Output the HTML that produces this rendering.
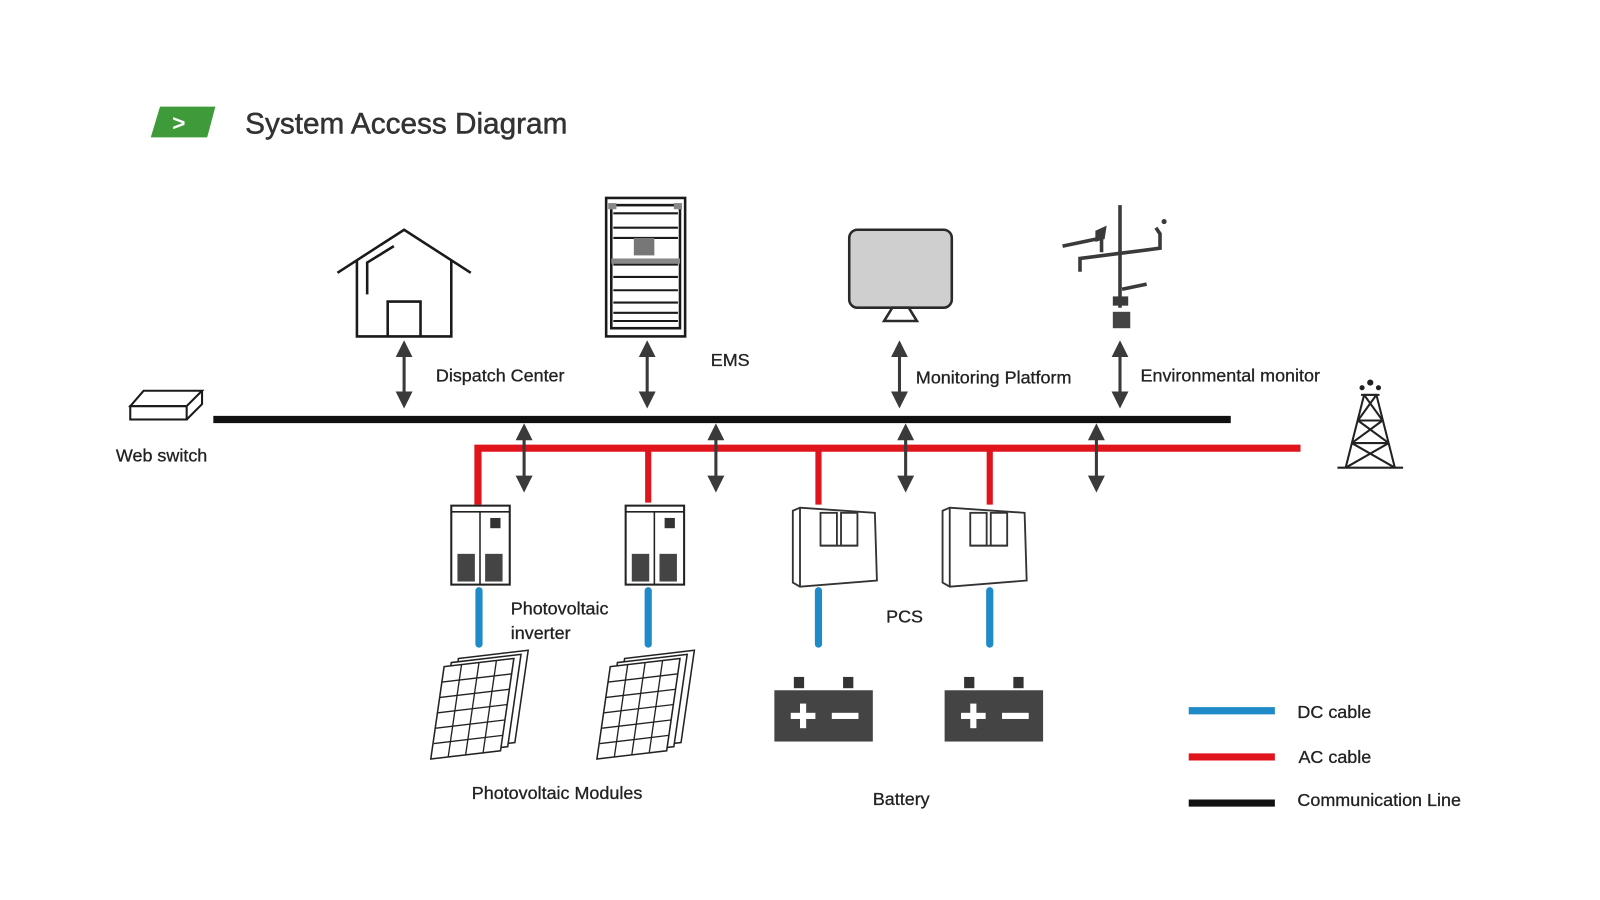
<!DOCTYPE html>
<html><head><meta charset="utf-8"><style>
html,body{margin:0;padding:0;background:#fff;}
svg{display:block;}
text{font-family:"Liberation Sans",sans-serif;fill:#222;}
</style></head><body>
<svg width="1600" height="900" viewBox="0 0 1560 877.5" xmlns="http://www.w3.org/2000/svg">
<defs>
<marker id="ah" viewBox="0 0 10 10" refX="5" refY="5" markerWidth="5.5" markerHeight="5.5" orient="auto-start-reverse"><path d="M0,0 L10,5 L0,10 z" fill="#3a3a3a"/></marker>
</defs>
<rect width="1560" height="877.5" fill="#fff"/>
<polygon points="156,104 210,104 202,134 147,134" fill="#3f9a3a"/>
<text x="168" y="127" font-size="22" font-weight="bold" style="fill:#fff">&gt;</text>
<text x="239" y="130" font-size="29" style="fill:#333;stroke:#333;stroke-width:0.5">System Access Diagram</text>

<line x1="208" y1="409" x2="1200" y2="409" stroke="#111" stroke-width="7"/>
<polyline points="466,492 466,437 1268,437" fill="none" stroke="#e0141c" stroke-width="7"/>
<g stroke="#e0141c" stroke-width="6">
<line x1="632" y1="437" x2="632" y2="490"/>
<line x1="798" y1="437" x2="798" y2="492"/>
<line x1="965" y1="437" x2="965" y2="492"/>
</g>
<g stroke="#1e8ac8" stroke-width="7" stroke-linecap="round">
<line x1="467" y1="576" x2="467" y2="628"/>
<line x1="632" y1="576" x2="632" y2="628"/>
<line x1="798" y1="576" x2="798" y2="628"/>
<line x1="965" y1="576" x2="965" y2="628"/>
</g>

<g stroke="#3a3a3a" stroke-width="3" marker-start="url(#ah)" marker-end="url(#ah)">
<line x1="394" y1="340" x2="394" y2="390"/>
<line x1="631" y1="340" x2="631" y2="390"/>
<line x1="877" y1="340" x2="877" y2="390"/>
<line x1="1092" y1="340" x2="1092" y2="390"/>
<line x1="511" y1="421" x2="511" y2="472"/>
<line x1="698" y1="421" x2="698" y2="472"/>
<line x1="883" y1="421" x2="883" y2="472"/>
<line x1="1069" y1="421" x2="1069" y2="472"/>
</g>

<g fill="none" stroke="#1a1a1a" stroke-width="2.5">
<polyline points="329,266 394,224 459,266"/>
<polyline points="348,253 348,328 440,328 440,253"/>
<polyline points="378,328 378,294 410,294 410,328"/>
<polyline points="358,287 358,256 384,240"/>
</g>

<g fill="none" stroke="#1a1a1a" stroke-width="2.5">
<rect x="591" y="193" width="77" height="135"/>
<rect x="596" y="200" width="67" height="120"/>
<g stroke-width="2"><line x1="598" y1="208" x2="661" y2="208"/><line x1="598" y1="222" x2="661" y2="222"/><line x1="598" y1="232" x2="661" y2="232"/><line x1="598" y1="258" x2="661" y2="258"/><line x1="598" y1="270" x2="661" y2="270"/><line x1="598" y1="283" x2="661" y2="283"/><line x1="598" y1="295" x2="661" y2="295"/><line x1="598" y1="305" x2="661" y2="305"/><line x1="598" y1="313" x2="661" y2="313"/></g>
</g>
<rect x="618" y="232" width="20" height="17" fill="#777"/>
<rect x="596" y="252" width="67" height="5" fill="#888"/>
<rect x="593" y="198" width="8" height="6" fill="#888"/><rect x="657" y="198" width="8" height="6" fill="#888"/>

<rect x="828" y="224" width="100" height="76" rx="8" fill="#cfcfcf" stroke="#2a2a2a" stroke-width="2.5"/>
<polygon points="870,300 886,300 894,313 862,313" fill="none" stroke="#2a2a2a" stroke-width="2.5"/>

<g stroke="#3a3a3a" stroke-width="3.5" fill="none">
<line x1="1092" y1="200" x2="1092" y2="300"/>
<polyline points="1053,265 1053,252 1092,247 1131,242 1131,228 1127,222"/>
<polyline points="1036,240 1074,232 1074,246"/>
<line x1="1094" y1="282" x2="1118" y2="277"/>
</g>
<polygon points="1068,225 1079,220 1077,233 1068,236" fill="#3a3a3a"/>
<circle cx="1135" cy="216" r="2.5" fill="#3a3a3a"/>
<rect x="1085" y="289" width="15" height="9" fill="#3a3a3a"/>
<rect x="1085" y="304" width="17" height="16" fill="#444"/>

<g stroke="#222" stroke-width="2" fill="none">
<line x1="1304" y1="456" x2="1368" y2="456"/>
<polyline points="1312,456 1330,385 1342,385 1360,456"/>
<line x1="1327" y1="385" x2="1345" y2="385"/>
<line x1="1324" y1="410" x2="1348" y2="410"/>
<line x1="1318" y1="432" x2="1354" y2="432"/>
<line x1="1330" y1="385" x2="1348" y2="410"/><line x1="1342" y1="385" x2="1324" y2="410"/>
<line x1="1324" y1="410" x2="1354" y2="432"/><line x1="1348" y1="410" x2="1318" y2="432"/>
<line x1="1318" y1="432" x2="1360" y2="456"/><line x1="1354" y1="432" x2="1312" y2="456"/>
</g>
<circle cx="1336" cy="373" r="3" fill="#222"/><circle cx="1328" cy="378" r="2.5" fill="#222"/><circle cx="1344" cy="378" r="2.5" fill="#222"/>

<g fill="none" stroke="#1a1a1a" stroke-width="2">
<polygon points="127,396 140,381 197,381 182,396"/>
<rect x="127" y="396" width="55" height="13"/>
<polyline points="182,409 197,394 197,381"/>
</g>

<g id="inv">
<rect x="440" y="493" width="57" height="77" fill="#fff" stroke="#222" stroke-width="2"/>
<line x1="440" y1="499" x2="497" y2="499" stroke="#222" stroke-width="1.5"/>
<line x1="468" y1="499" x2="468" y2="570" stroke="#222" stroke-width="1.5"/>
<rect x="478" y="505" width="10" height="10" fill="#333"/>
<rect x="446" y="540" width="17" height="27" fill="#444"/>
<rect x="473" y="540" width="17" height="27" fill="#444"/>
</g>
<use href="#inv" x="170"/>

<g id="pcs" fill="#fff" stroke="#333" stroke-width="1.8">
<polygon points="773,498 780,495 853,500 855,566 780,572 773,568"/>
<line x1="780" y1="495" x2="780" y2="572"/>
<rect x="800" y="500" width="16" height="32"/>
<rect x="820" y="500" width="16" height="32"/>
<line x1="800" y1="532" x2="836" y2="532"/>
</g>
<use href="#pcs" x="146"/>

<g id="sol" fill="#fff" stroke="#222" stroke-width="1.5">
<g transform="translate(14,-8)"><path d="M433,650 L501,642 L488,732 L420,740 Z"/></g>
<g transform="translate(7,-4)"><path d="M433,650 L501,642 L488,732 L420,740 Z"/></g>
<path d="M433,650 L501,642 L488,732 L420,740 Z"/>
<g stroke-width="1.3">
<line x1="431" y1="665" x2="499" y2="657"/><line x1="429" y1="680" x2="497" y2="672"/><line x1="427" y1="695" x2="494" y2="687"/><line x1="425" y1="710" x2="492" y2="702"/><line x1="423" y1="725" x2="490" y2="717"/>
<line x1="450" y1="648" x2="437" y2="738"/><line x1="467" y1="646" x2="454" y2="736"/><line x1="484" y1="644" x2="471" y2="734"/>
</g>
</g>
<use href="#sol" x="162"/>

<g id="bat">
<rect x="774" y="660" width="10" height="11" fill="#333"/>
<rect x="822" y="660" width="10" height="11" fill="#333"/>
<rect x="755" y="673" width="96" height="50" fill="#444"/>
<rect x="771" y="695" width="24" height="6" fill="#fff"/>
<rect x="780" y="686" width="6" height="24" fill="#fff"/>
<rect x="811" y="695" width="26" height="6" fill="#fff"/>
</g>
<use href="#bat" x="166"/>

<g font-size="17.5" style="stroke:#222;stroke-width:0.3">
<text x="425" y="372">Dispatch Center</text>
<text x="693" y="357">EMS</text>
<text x="893" y="374">Monitoring Platform</text>
<text x="1112" y="372">Environmental monitor</text>
<text x="113" y="450">Web switch</text>
<text x="498" y="599">Photovoltaic</text>
<text x="498" y="623">inverter</text>
<text x="864" y="607">PCS</text>
<text x="460" y="779">Photovoltaic Modules</text>
<text x="851" y="785">Battery</text>
<text x="1265" y="700">DC cable</text>
<text x="1266" y="744">AC cable</text>
<text x="1265" y="786">Communication Line</text>
</g>
<line x1="1159" y1="693" x2="1243" y2="693" stroke="#1e8ac8" stroke-width="7"/>
<line x1="1159" y1="738" x2="1243" y2="738" stroke="#e0141c" stroke-width="7"/>
<line x1="1159" y1="783" x2="1243" y2="783" stroke="#111" stroke-width="7"/>
</svg>
</body></html>
